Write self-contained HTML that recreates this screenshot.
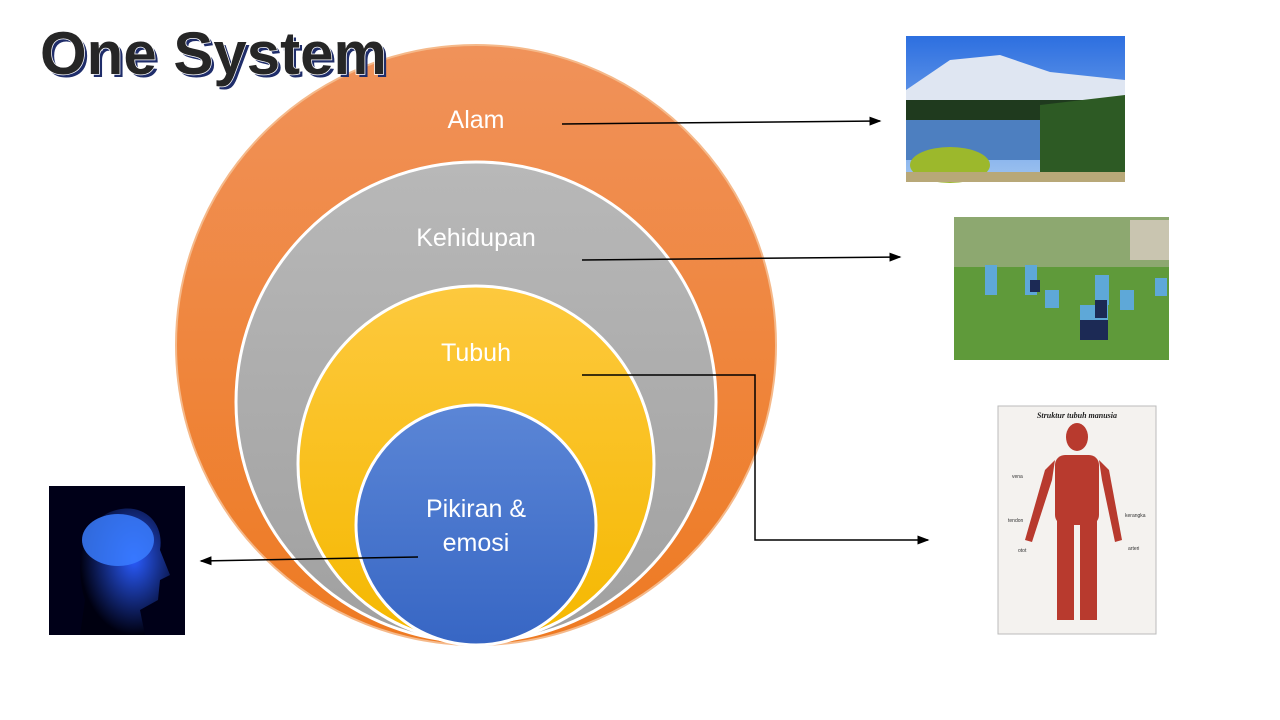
<!DOCTYPE html>
<html><head><meta charset="utf-8"><style>
html,body{margin:0;padding:0;background:#fff;width:1280px;height:720px;overflow:hidden}
svg{display:block}
</style></head><body>
<svg width="1280" height="720" viewBox="0 0 1280 720" xmlns="http://www.w3.org/2000/svg">
<defs>
<linearGradient id="og" x1="0" y1="0" x2="0" y2="1"><stop offset="0" stop-color="#f0925a"/><stop offset="1" stop-color="#ee7a22"/></linearGradient>
<linearGradient id="gg" x1="0" y1="0" x2="0" y2="1"><stop offset="0" stop-color="#b8b8b8"/><stop offset="1" stop-color="#a0a0a0"/></linearGradient>
<linearGradient id="yg" x1="0" y1="0" x2="0" y2="1"><stop offset="0" stop-color="#fdc93e"/><stop offset="1" stop-color="#f5b800"/></linearGradient>
<linearGradient id="bg" x1="0" y1="0" x2="0" y2="1"><stop offset="0" stop-color="#5b86d6"/><stop offset="1" stop-color="#3766c4"/></linearGradient>
<linearGradient id="sky" x1="0" y1="0" x2="0" y2="1"><stop offset="0" stop-color="#2d6fe0"/><stop offset="1" stop-color="#9fc4f0"/></linearGradient>
<radialGradient id="br" cx="0.6" cy="0.4" r="0.6"><stop offset="0" stop-color="#2a5cff"/><stop offset="1" stop-color="#000010"/></radialGradient>
<marker id="ah" markerWidth="8" markerHeight="8" refX="7" refY="4" orient="auto"><path d="M0,1 L8,4 L0,7 z" fill="#000"/></marker>
</defs>
<circle cx="476" cy="345" r="300" fill="url(#og)" stroke="#f5b98a" stroke-width="2"/>
<circle cx="476" cy="402" r="240" fill="url(#gg)" stroke="#fff" stroke-width="3"/>
<circle cx="476" cy="464" r="178" fill="url(#yg)" stroke="#fff" stroke-width="3"/>
<circle cx="476" cy="525" r="120" fill="url(#bg)" stroke="#fff" stroke-width="3"/>
<g font-family="Liberation Sans, sans-serif" font-size="25" fill="#fff" text-anchor="middle">
<text x="476" y="128">Alam</text>
<text x="476" y="246">Kehidupan</text>
<text x="476" y="361">Tubuh</text>
<text x="476" y="517">Pikiran &amp;</text>
<text x="476" y="551">emosi</text>
</g>
<text x="40" y="74" font-family="Liberation Sans, sans-serif" font-weight="bold" font-size="60" fill="#1f2d6a" transform="translate(3,3)">One System</text>
<text x="40" y="74" font-family="Liberation Sans, sans-serif" font-weight="bold" font-size="60" fill="#262626" stroke="#fff" stroke-width="1.5" paint-order="stroke">One System</text>
<g stroke="#000" stroke-width="1.5" fill="none">
<line x1="562" y1="124" x2="880" y2="121" marker-end="url(#ah)"/>
<line x1="582" y1="260" x2="900" y2="257" marker-end="url(#ah)"/>
<polyline points="582,375 755,375 755,540 928,540" marker-end="url(#ah)"/>
<line x1="418" y1="557" x2="201" y2="561" marker-end="url(#ah)"/>
</g>
<!-- mountain -->
<rect x="906" y="36" width="219" height="146" fill="url(#sky)"/>
<polygon points="906,90 950,60 1000,55 1050,72 1125,80 1125,105 906,105" fill="#dfe6f2"/>
<rect x="906" y="100" width="219" height="30" fill="#1f3a1e"/>
<rect x="906" y="120" width="140" height="40" fill="#4d7fc0"/>
<polygon points="1040,105 1125,95 1125,182 1040,182" fill="#2d5a24"/>
<ellipse cx="950" cy="165" rx="40" ry="18" fill="#9cb82c"/>
<rect x="906" y="172" width="219" height="10" fill="#b8a878"/>
<!-- kids -->
<rect x="954" y="217" width="215" height="143" fill="#5f9a3a"/>
<rect x="954" y="217" width="215" height="50" fill="#8da870"/>
<rect x="1130" y="220" width="39" height="40" fill="#c9c5b0"/>
<g fill="#5ea8d8"><rect x="985" y="265" width="12" height="30"/><rect x="1025" y="265" width="12" height="30"/><rect x="1045" y="290" width="14" height="18"/><rect x="1095" y="275" width="14" height="30"/><rect x="1120" y="290" width="14" height="20"/><rect x="1080" y="305" width="28" height="16"/><rect x="1155" y="278" width="12" height="18"/></g>
<g fill="#1c2a55"><rect x="1080" y="320" width="28" height="20"/><rect x="1030" y="280" width="10" height="12"/><rect x="1095" y="300" width="12" height="18"/></g>
<!-- body chart -->
<rect x="998" y="406" width="158" height="228" fill="#f4f2ef" stroke="#bbb"/>
<text x="1077" y="418" font-family="Liberation Serif, serif" font-style="italic" font-weight="bold" font-size="8" fill="#222" text-anchor="middle">Struktur tubuh manusia</text>
<g fill="#b83a2e">
<ellipse cx="1077" cy="437" rx="11" ry="14"/>
<rect x="1055" y="455" width="44" height="70" rx="10"/>
<rect x="1057" y="520" width="17" height="100"/><rect x="1080" y="520" width="17" height="100"/>
<polygon points="1055,460 1045,470 1025,540 1032,542 1052,480"/>
<polygon points="1099,460 1109,470 1122,540 1115,542 1102,480"/>
</g>
<g font-family="Liberation Sans, sans-serif" font-size="5" fill="#333"><text x="1012" y="478">vena</text><text x="1008" y="522">tendon</text><text x="1018" y="552">otot</text><text x="1125" y="517">kerangka</text><text x="1128" y="550">arteri</text></g>
<!-- brain -->
<rect x="49" y="486" width="136" height="149" fill="#000018"/>
<path d="M80,635 L85,600 C75,570 80,525 110,512 C140,500 165,520 160,550 L170,575 L160,580 L158,600 L140,610 L145,635 Z" fill="url(#br)"/>
<ellipse cx="118" cy="540" rx="36" ry="26" fill="#3a7dff" opacity="0.85"/>
</svg>
</body></html>
